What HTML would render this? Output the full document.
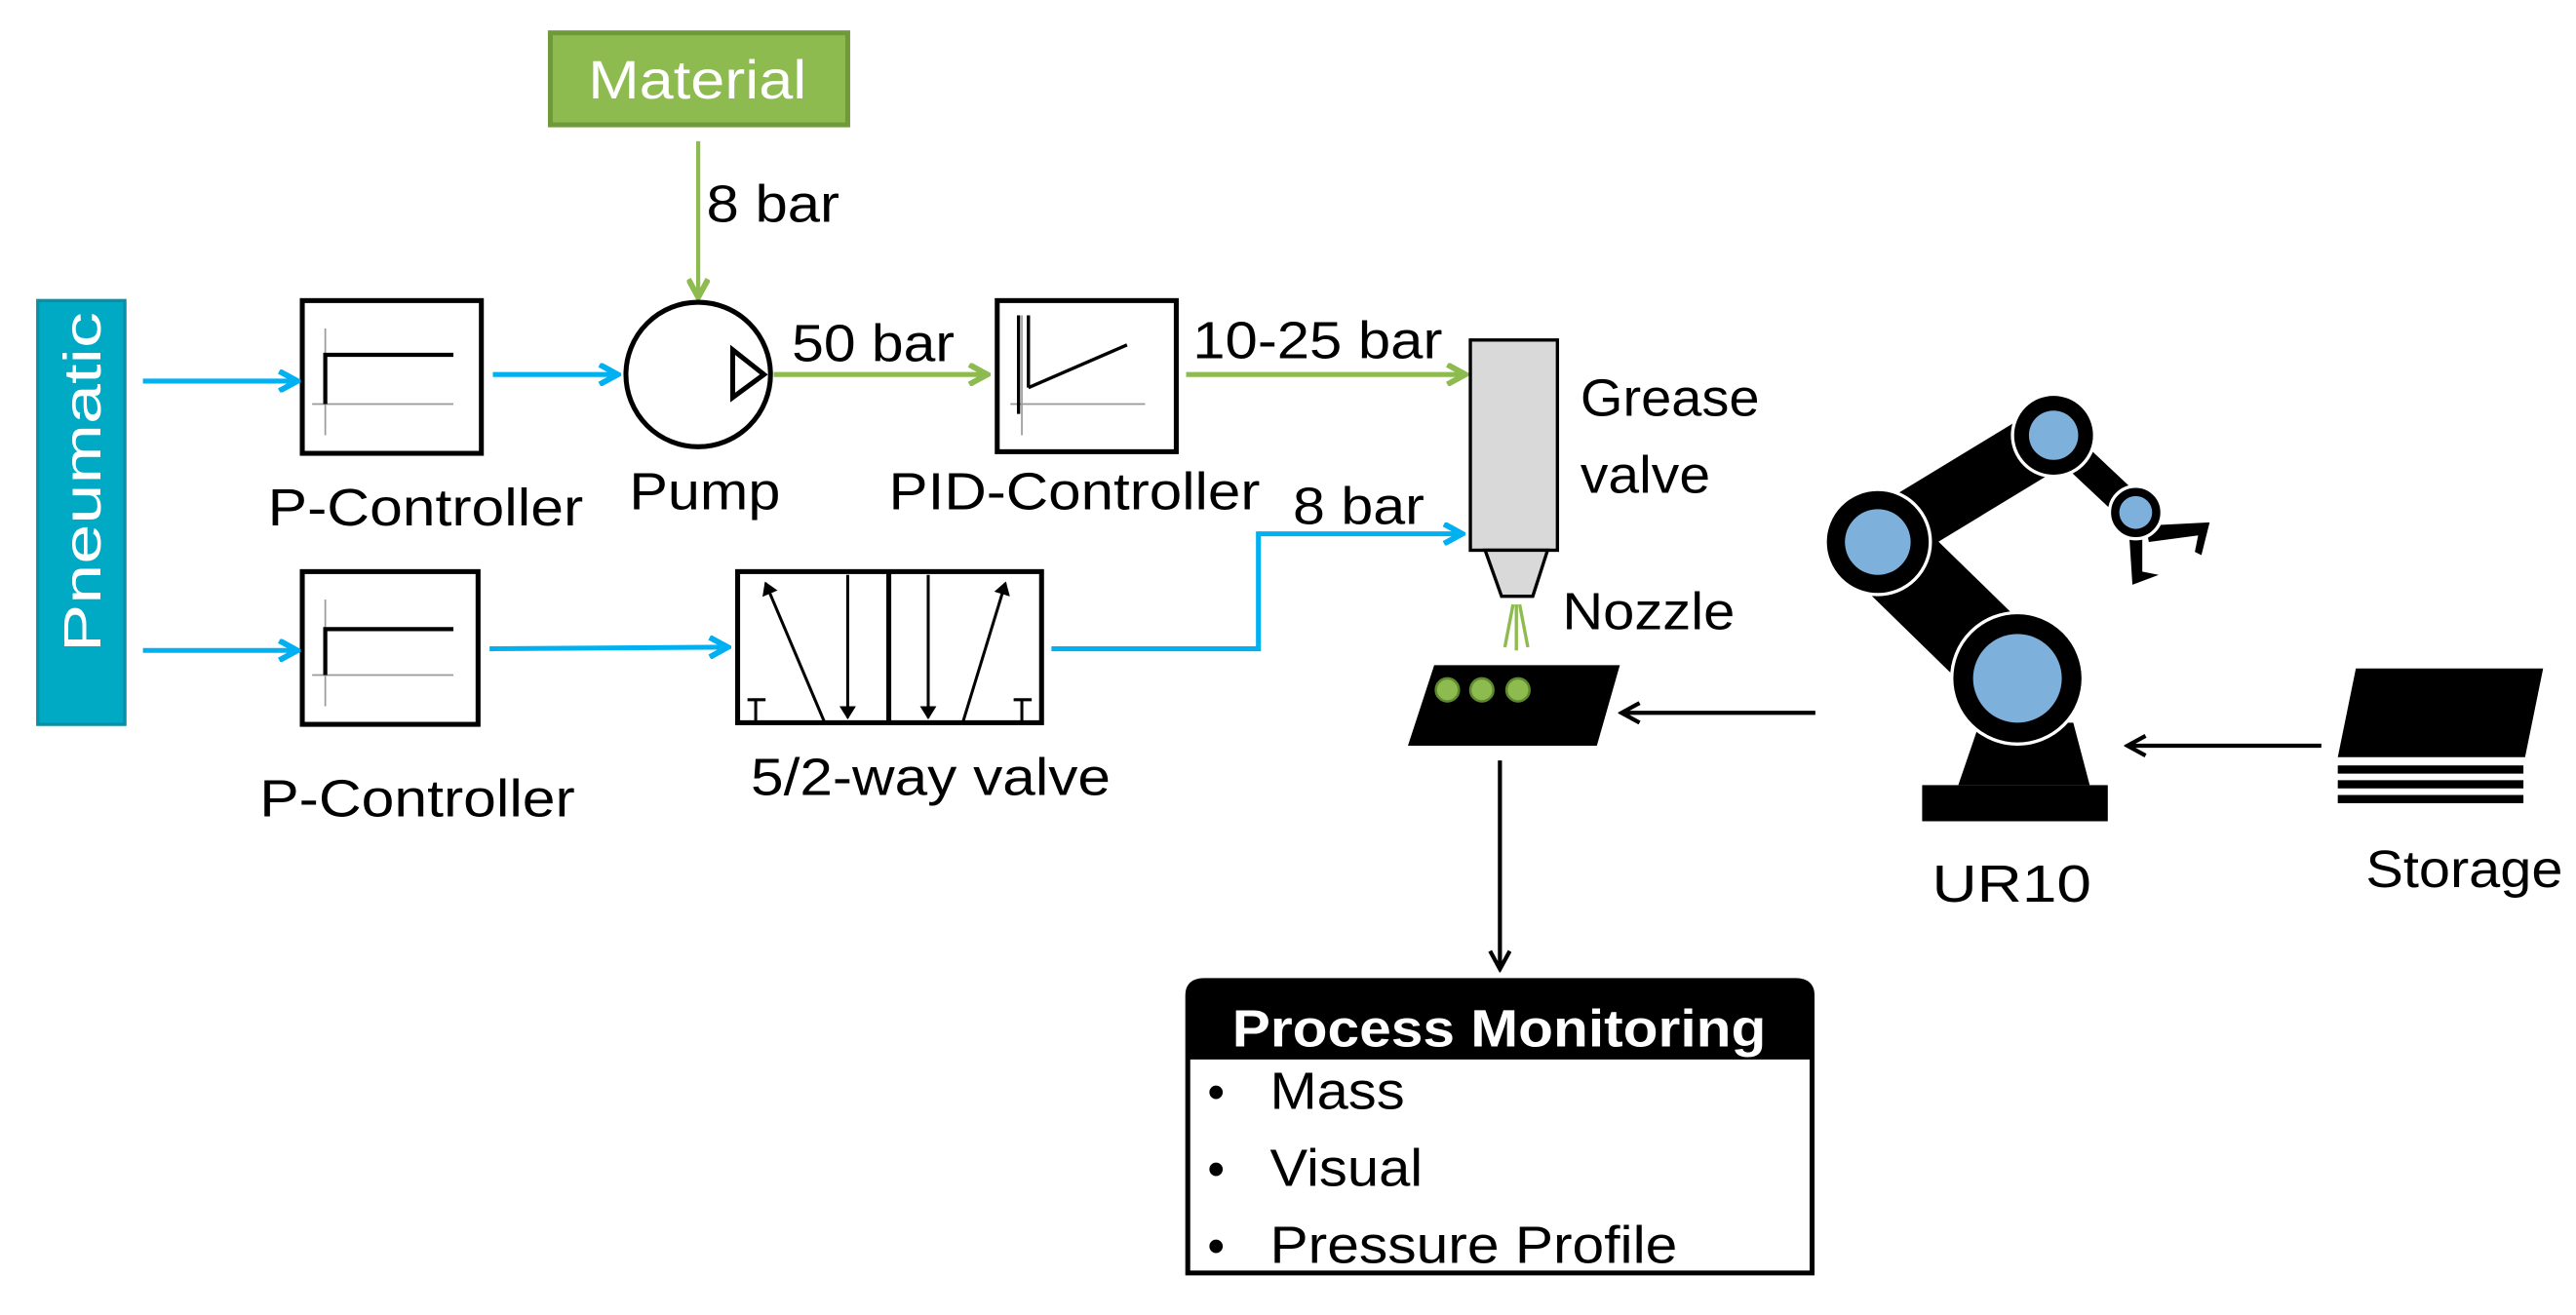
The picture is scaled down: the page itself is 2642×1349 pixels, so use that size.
<!DOCTYPE html>
<html><head><meta charset="utf-8"><style>
html,body{margin:0;padding:0;background:#fff;}
svg{display:block;}
text{font-family:"Liberation Sans",sans-serif;fill:#000;}
</style></head><body>
<svg width="2642" height="1349" viewBox="0 0 1568 800.6" preserveAspectRatio="none" xmlns="http://www.w3.org/2000/svg">
<defs>
<marker id="ab" markerWidth="14" markerHeight="14" refX="11" refY="7" orient="auto" markerUnits="userSpaceOnUse"><path d="M1,1 L12,7 L1,13" fill="none" stroke="#00B0F0" stroke-width="3.5"/></marker>
<marker id="ag" markerWidth="14" markerHeight="14" refX="11" refY="7" orient="auto" markerUnits="userSpaceOnUse"><path d="M1,1 L12,7 L1,13" fill="none" stroke="#8DBB4F" stroke-width="3.5"/></marker>
<marker id="ak" markerWidth="14" markerHeight="14" refX="11" refY="7" orient="auto" markerUnits="userSpaceOnUse"><path d="M1,1 L12,7 L1,13" fill="none" stroke="#000" stroke-width="2.5"/></marker>
<marker id="as" markerWidth="8" markerHeight="10" refX="7" refY="5" orient="auto" markerUnits="userSpaceOnUse"><path d="M0,0 L8,5 L0,10 Z" fill="#000"/></marker>
</defs>

<!-- Material -->
<rect x="335" y="20" width="181" height="56" fill="#8DBB4F" stroke="#6E9A3A" stroke-width="3"/>
<text x="358" y="60" font-size="33" textLength="133" lengthAdjust="spacingAndGlyphs" style="fill:#fff">Material</text>
<line x1="425" y1="86" x2="425" y2="180" stroke="#8DBB4F" stroke-width="2.5" marker-end="url(#ag)"/>
<text x="430" y="135" font-size="32" textLength="81" lengthAdjust="spacingAndGlyphs">8 bar</text>

<!-- Pneumatic -->
<rect x="23" y="183" width="53" height="258" fill="#00A9C4" stroke="#0B8FA5" stroke-width="2"/>
<text transform="translate(61,397) rotate(-90)" font-size="32" textLength="207" lengthAdjust="spacingAndGlyphs" style="fill:#fff">Pneumatic</text>

<!-- P-Controller 1 -->
<rect x="184" y="183" width="109" height="93" fill="#fff" stroke="#000" stroke-width="3"/>
<line x1="198" y1="200" x2="198" y2="265" stroke="#999" stroke-width="1"/>
<line x1="190" y1="246" x2="276" y2="246" stroke="#999" stroke-width="1"/>
<polyline points="198,246 198,216 276,216" fill="none" stroke="#000" stroke-width="2.5"/>
<text x="163" y="320" font-size="32" textLength="192" lengthAdjust="spacingAndGlyphs">P-Controller</text>
<line x1="87" y1="232" x2="180" y2="232" stroke="#00B0F0" stroke-width="3" marker-end="url(#ab)"/>
<line x1="300" y1="228" x2="375" y2="228" stroke="#00B0F0" stroke-width="3" marker-end="url(#ab)"/>

<!-- Pump -->
<circle cx="425" cy="228" r="44" fill="#fff" stroke="#000" stroke-width="3"/>
<polygon points="446,213 446,242 465,228" fill="#fff" stroke="#000" stroke-width="3"/>
<text x="383" y="310" font-size="32" textLength="92" lengthAdjust="spacingAndGlyphs">Pump</text>
<line x1="471" y1="228" x2="600" y2="228" stroke="#8DBB4F" stroke-width="3" marker-end="url(#ag)"/>
<text x="482" y="220" font-size="32" textLength="99" lengthAdjust="spacingAndGlyphs">50 bar</text>

<!-- PID -->
<rect x="607" y="183" width="109" height="92" fill="#fff" stroke="#000" stroke-width="3"/>
<line x1="622" y1="192" x2="622" y2="265" stroke="#999" stroke-width="1"/>
<line x1="615" y1="246" x2="697" y2="246" stroke="#999" stroke-width="1"/>
<line x1="620" y1="192" x2="620" y2="252" stroke="#000" stroke-width="2"/>
<line x1="626" y1="192" x2="626" y2="236" stroke="#000" stroke-width="2"/>
<line x1="626" y1="236" x2="686" y2="210" stroke="#000" stroke-width="2"/>
<text x="541" y="310" font-size="32" textLength="226" lengthAdjust="spacingAndGlyphs">PID-Controller</text>
<line x1="722" y1="228" x2="891" y2="228" stroke="#8DBB4F" stroke-width="3" marker-end="url(#ag)"/>
<text x="726" y="218" font-size="32" textLength="152" lengthAdjust="spacingAndGlyphs">10-25 bar</text>

<!-- Grease valve -->
<rect x="895" y="207" width="53" height="128" fill="#D9D9D9" stroke="#000" stroke-width="2"/>
<polygon points="904,335 942,335 933,363 914,363" fill="#D9D9D9" stroke="#000" stroke-width="2"/>
<g stroke="#8DBB4F" stroke-width="2">
<line x1="923" y1="368" x2="923" y2="396"/><line x1="921" y1="368" x2="916" y2="394"/><line x1="925" y1="368" x2="930" y2="394"/>
</g>
<text x="962" y="253" font-size="32" textLength="109" lengthAdjust="spacingAndGlyphs">Grease</text>
<text x="962" y="300" font-size="32" textLength="79" lengthAdjust="spacingAndGlyphs">valve</text>
<text x="951" y="383" font-size="32" textLength="105" lengthAdjust="spacingAndGlyphs">Nozzle</text>

<!-- P-Controller 2 -->
<rect x="184" y="348" width="107" height="93" fill="#fff" stroke="#000" stroke-width="3"/>
<line x1="198" y1="365" x2="198" y2="430" stroke="#999" stroke-width="1"/>
<line x1="190" y1="411" x2="276" y2="411" stroke="#999" stroke-width="1"/>
<polyline points="198,411 198,383 276,383" fill="none" stroke="#000" stroke-width="2.5"/>
<text x="158" y="497" font-size="32" textLength="192" lengthAdjust="spacingAndGlyphs">P-Controller</text>
<line x1="87" y1="396" x2="180" y2="396" stroke="#00B0F0" stroke-width="3" marker-end="url(#ab)"/>
<line x1="298" y1="395" x2="442" y2="394" stroke="#00B0F0" stroke-width="3" marker-end="url(#ab)"/>

<!-- 5/2 valve -->
<rect x="449" y="348" width="185" height="92" fill="#fff" stroke="#000" stroke-width="3"/>
<line x1="541" y1="348" x2="541" y2="440" stroke="#000" stroke-width="3"/>
<line x1="502" y1="440" x2="466" y2="355" stroke="#000" stroke-width="1.8" marker-end="url(#as)"/>
<line x1="516" y1="350" x2="516" y2="437" stroke="#000" stroke-width="1.8" marker-end="url(#as)"/>
<line x1="565" y1="350" x2="565" y2="437" stroke="#000" stroke-width="1.8" marker-end="url(#as)"/>
<line x1="586" y1="440" x2="612" y2="355" stroke="#000" stroke-width="1.8" marker-end="url(#as)"/>
<g stroke="#000" stroke-width="1.8"><line x1="460" y1="426" x2="460" y2="440"/><line x1="455" y1="426" x2="466" y2="426"/><line x1="622" y1="426" x2="622" y2="440"/><line x1="617" y1="426" x2="628" y2="426"/></g>
<text x="457" y="484" font-size="32" textLength="219" lengthAdjust="spacingAndGlyphs">5/2-way valve</text>
<polyline points="640,395 766,395 766,325 889,325" fill="none" stroke="#00B0F0" stroke-width="3" marker-end="url(#ab)"/>
<text x="787" y="319" font-size="32" textLength="80" lengthAdjust="spacingAndGlyphs">8 bar</text>

<!-- tray -->
<polygon points="873,405 986,405 972,454 857,454" fill="#000"/>
<g fill="#8DBB4F" stroke="#5E8A2E" stroke-width="1.5"><circle cx="881" cy="420" r="7"/><circle cx="902" cy="420" r="7"/><circle cx="924" cy="420" r="7"/></g>
<line x1="1105" y1="434" x2="988" y2="434" stroke="#000" stroke-width="2.5" marker-end="url(#ak)"/>
<line x1="913" y1="463" x2="913" y2="589" stroke="#000" stroke-width="2.5" marker-end="url(#ak)"/>

<!-- Process monitoring -->
<path d="M723,606 Q723,597 733,597 L1093,597 Q1103,597 1103,606 L1103,775 L723,775 Z" fill="#fff" stroke="#000" stroke-width="3"/>
<path d="M723,606 Q723,597 733,597 L1093,597 Q1103,597 1103,606 L1103,645 L723,645 Z" fill="#000"/>
<text x="750" y="637" font-size="32" font-weight="bold" textLength="325" lengthAdjust="spacingAndGlyphs" style="fill:#fff">Process  Monitoring</text>
<text x="735" y="675" font-size="30">•</text><text x="773" y="675" font-size="32" textLength="82" lengthAdjust="spacingAndGlyphs">Mass</text>
<text x="735" y="722" font-size="30">•</text><text x="773" y="722" font-size="32" textLength="93" lengthAdjust="spacingAndGlyphs">Visual</text>
<text x="735" y="769" font-size="30">•</text><text x="773" y="769" font-size="32" textLength="248" lengthAdjust="spacingAndGlyphs">Pressure Profile</text>

<!-- Robot -->
<rect x="1170" y="478" width="113" height="22" fill="#000"/>
<polygon points="1192,478 1272,478 1262,440 1205,440" fill="#000"/>
<line x1="1228" y1="413" x2="1143" y2="330" stroke="#000" stroke-width="52"/>
<line x1="1143" y1="330" x2="1250" y2="265" stroke="#000" stroke-width="38"/>
<line x1="1250" y1="265" x2="1300" y2="312" stroke="#000" stroke-width="18"/>
<circle cx="1228" cy="413" r="40" fill="#000" stroke="#fff" stroke-width="2"/><circle cx="1228" cy="413" r="27" fill="#7EB0DC"/>
<circle cx="1143" cy="330" r="32" fill="#000" stroke="#fff" stroke-width="2"/><circle cx="1143" cy="330" r="20" fill="#7EB0DC"/>
<circle cx="1250" cy="265" r="25" fill="#000" stroke="#fff" stroke-width="2"/><circle cx="1250" cy="265" r="15" fill="#7EB0DC"/>
<polygon points="1306,320 1345,318 1340,338 1336,336 1338,326 1308,330" fill="#000"/>
<polygon points="1296,325 1304,325 1304,348 1314,350 1298,356" fill="#000"/>
<circle cx="1300" cy="312" r="16" fill="#000" stroke="#fff" stroke-width="2"/><circle cx="1300" cy="312" r="10" fill="#7EB0DC"/>
<text x="1176" y="549" font-size="32" textLength="97" lengthAdjust="spacingAndGlyphs">UR10</text>

<!-- Storage -->
<line x1="1413" y1="454" x2="1296" y2="454" stroke="#000" stroke-width="2.5" marker-end="url(#ak)"/>
<polygon points="1434,407 1548,407 1537,461 1423,461" fill="#000"/>
<rect x="1423" y="466" width="113" height="5" fill="#000"/>
<rect x="1423" y="475" width="113" height="5" fill="#000"/>
<rect x="1423" y="484" width="113" height="5" fill="#000"/>
<text x="1440" y="540" font-size="32" textLength="120" lengthAdjust="spacingAndGlyphs">Storage</text>
</svg>
</body></html>
